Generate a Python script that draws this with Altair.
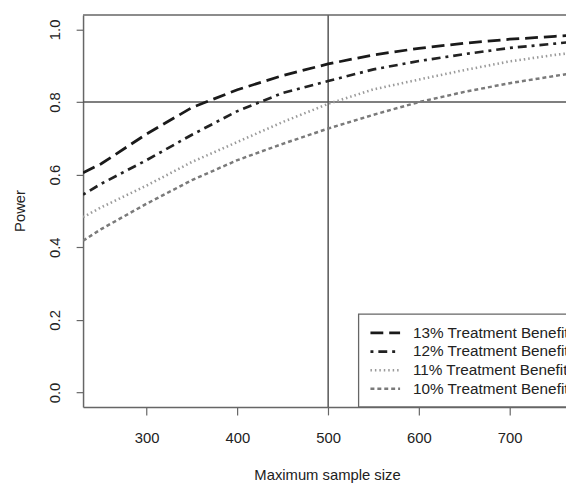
import altair as alt
import pandas as pd

# Data
sample_size = [230, 250, 300, 350, 400, 450, 500, 550, 600, 650, 700, 750, 770]
power_13 = [0.605, 0.630, 0.712, 0.785, 0.834, 0.873, 0.905, 0.930, 0.948, 0.962, 0.973, 0.981, 0.984]
power_12 = [0.545, 0.575, 0.640, 0.710, 0.775, 0.825, 0.858, 0.890, 0.913, 0.932, 0.949, 0.961, 0.966]
power_11 = [0.483, 0.510, 0.570, 0.635, 0.690, 0.745, 0.795, 0.835, 0.862, 0.888, 0.912, 0.930, 0.936]
power_10 = [0.418, 0.450, 0.520, 0.585, 0.640, 0.685, 0.727, 0.765, 0.800, 0.828, 0.852, 0.872, 0.880]
series_names = ["13% Treatment Benefit", "12% Treatment Benefit",
                "11% Treatment Benefit", "10% Treatment Benefit"]
ref_x = [500]
ref_y = [0.8]
x_ticks = [300, 400, 500, 600, 700]
y_ticks = [0.0, 0.2, 0.4, 0.6, 0.8, 1.0]

rows = []
for name, vals in zip(series_names, [power_13, power_12, power_11, power_10]):
    for s, p in zip(sample_size, vals):
        rows.append({"size": s, "power": p, "series": name})
df = pd.DataFrame(rows)
legend_df = pd.DataFrame({"series": series_names})

FONT = "Liberation Sans"
FS = 15
W, H = 489, 397

x_scale = alt.Scale(domain=[230, 762], nice=False, zero=False)
y_scale = alt.Scale(domain=[-0.04, 1.04], nice=False, zero=False)

color_enc = alt.Color("series:N",
                      scale=alt.Scale(domain=series_names,
                                      range=["#1a1a1a", "#222222", "#9a9a9a", "#7a7a7a"]),
                      legend=None)
dash_enc = alt.StrokeDash("series:N",
                          scale=alt.Scale(domain=series_names,
                                          range=[[13, 6], [3, 5, 9, 5], [1.5, 3], [4, 3]]),
                          legend=None)
width_enc = alt.StrokeWidth("series:N",
                            scale=alt.Scale(domain=series_names,
                                            range=[2.8, 2.5, 1.6, 1.6]),
                            legend=None)

lines = alt.Chart(df).mark_line(clip=True).encode(
    x=alt.X("size:Q", scale=x_scale,
            axis=alt.Axis(values=x_ticks, title="Maximum sample size", grid=False,
                          tickSize=8, labelPadding=16, titleX=247, titleY=68,
                          titleBaseline="middle", titleAlign="center")),
    y=alt.Y("power:Q", scale=y_scale,
            axis=alt.Axis(values=y_ticks, format=".1f", title="Power", grid=False,
                          tickSize=7, labelPadding=14, labelAngle=-90,
                          labelAlign="center", labelBaseline="bottom",
                          titleX=-64, titleY=198, titleAngle=-90,
                          titleBaseline="middle", titleAlign="center")),
    color=color_enc, strokeDash=dash_enc, strokeWidth=width_enc,
)

vline = alt.Chart(pd.DataFrame({"x": ref_x})).mark_rule(color="#555", strokeWidth=1.5).encode(
    x=alt.X("x:Q", scale=x_scale))
hline = alt.Chart(pd.DataFrame({"y": ref_y})).mark_rule(color="#555", strokeWidth=1.5).encode(
    y=alt.Y("y:Q", scale=y_scale, axis=None))
top_frame = alt.Chart(pd.DataFrame({"y": ref_y})).mark_rule(color="#666", strokeWidth=1.5).encode(
    x=alt.value(0), x2=alt.value(W), y=alt.value(0))

# Legend (box, line samples, labels)
leg_y = alt.Y("series:N", scale=alt.Scale(type="point", domain=series_names,
                                          range=[322, 378.6], padding=0), axis=None)
legend_box = alt.Chart(legend_df.head(1)).mark_rect(
    fill="white", stroke="#666", strokeWidth=1.3).encode(
    x=alt.value(279), x2=alt.value(W + 30), y=alt.value(303), y2=alt.value(397))
legend_lines = alt.Chart(legend_df).mark_rule().encode(
    x=alt.value(291), x2=alt.value(321), y=leg_y,
    color=color_enc, strokeDash=dash_enc, strokeWidth=width_enc)
legend_text = alt.Chart(legend_df).mark_text(
    align="left", baseline="middle", font=FONT, fontSize=15.5, color="#222").encode(
    x=alt.value(334), y=leg_y, text="series:N")

chart = alt.layer(vline, hline, top_frame, lines, legend_box, legend_lines, legend_text
                  ).resolve_scale(y="independent").properties(
    width=W, height=H,
    autosize=alt.AutoSizeParams(type="none"),
    padding={"left": 76, "top": 4, "right": 0, "bottom": 78},
).configure_view(stroke=None).configure_axis(
    domainColor="#666", domainWidth=1.5, tickColor="#666", tickWidth=1.2,
    labelFont=FONT, labelFontSize=FS, labelColor="#222",
    titleFont=FONT, titleFontSize=FS, titleColor="#222", titleFontWeight="normal",
)

chart.save("out.html", embed_options={"renderer": "svg", "actions": False})
